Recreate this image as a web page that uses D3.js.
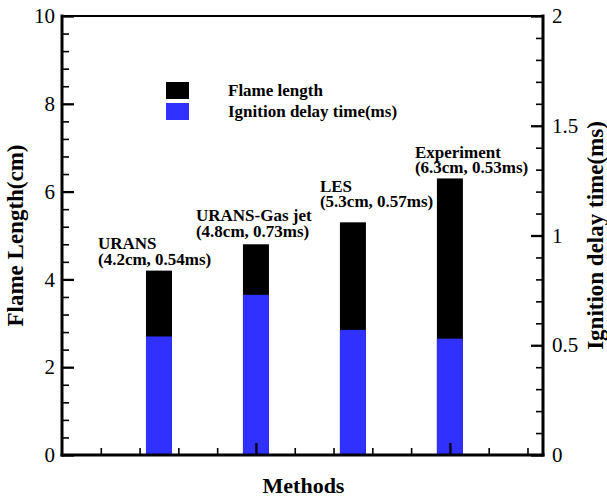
<!DOCTYPE html>
<html>
<head>
<meta charset="utf-8">
<script src="https://cdn.jsdelivr.net/npm/d3@7"></script>
<style>
  html, body { margin: 0; padding: 0; background: #fff; }
  svg text { font-family: "Liberation Serif", "Times New Roman", Times, serif !important; }
</style>
</head>
<body>
<svg id="chart" width="607" height="497"></svg>
<script>
// Methods compared, with flame length (cm) and ignition delay time (ms)
const categories = ["URANS", "URANS-Gas jet", "LES", "Experiment"];
const methodIndex = [1, 2, 3, 4];
const flameLength = [4.2, 4.8, 5.3, 6.3];
const ignitionDelay = [0.54, 0.73, 0.57, 0.53];

const leftTicks = [0, 2, 4, 6, 8, 10];
const rightTicks = [0, 0.5, 1, 1.5, 2];
const bottomTicks = [2, 4];

// label placement relative to each bar (pixels from bar centre / bar top)
const labelDx = [-61, -60, -33, -35];
const labelDy = [-6, -7.5, -15, -5];

const FONT = "Liberation Serif";
const svg = d3.select("#chart");
const plot = { left: 62, right: 543, top: 16, bottom: 455 };

const x = d3.scaleLinear().domain([0, 4.96]).range([plot.left, plot.right]);
const yL = d3.scaleLinear().domain([0, 10]).range([plot.bottom, plot.top]);
const yR = d3.scaleLinear().domain([0, 2]).range([plot.bottom, plot.top]);

const barW = 26;
const blue = "#3030ff";

// bars: flame length in black, ignition delay (right axis) in blue on top
const bars = svg.append("g");
bars.selectAll("rect.flame").data(categories).join("rect")
  .attr("class", "flame")
  .attr("x", (d, i) => x(methodIndex[i]) - barW / 2)
  .attr("width", barW)
  .attr("y", (d, i) => yL(flameLength[i]))
  .attr("height", (d, i) => yL(0) - yL(flameLength[i]))
  .attr("fill", "#000");
bars.selectAll("rect.delay").data(categories).join("rect")
  .attr("class", "delay")
  .attr("x", (d, i) => x(methodIndex[i]) - barW / 2)
  .attr("width", barW)
  .attr("y", (d, i) => yR(ignitionDelay[i]))
  .attr("height", (d, i) => yR(0) - yR(ignitionDelay[i]))
  .attr("fill", blue);

// axes
function styleAxis(g, major) {
  g.attr("font-family", FONT);
  g.select(".domain").remove();
  g.selectAll(".tick line").attr("stroke", "#000").attr("stroke-width", major ? 2.3 : 1.6);
  g.selectAll(".tick text").attr("fill", "#000").attr("font-size", 21);
}
const minor = (lo, hi, step, majors) => d3.range(lo, hi + step / 2, step)
  .map(v => +v.toFixed(3)).filter(v => !majors.some(m => Math.abs(m - v) < 1e-6));

// left
svg.append("g").attr("transform", `translate(${plot.left},0)`)
  .call(d3.axisLeft(yL).tickValues(minor(0, 10, 0.4, leftTicks)).tickSize(-7).tickFormat(""))
  .call(g => styleAxis(g, false));
svg.append("g").attr("transform", `translate(${plot.left},0)`)
  .call(d3.axisLeft(yL).tickValues(leftTicks).tickSize(-12).tickPadding(7).tickFormat(d3.format("d")))
  .call(g => styleAxis(g, true));

// right
svg.append("g").attr("transform", `translate(${plot.right},0)`)
  .call(d3.axisRight(yR).tickValues(minor(0, 2, 0.1, rightTicks)).tickSize(-7).tickFormat(""))
  .call(g => styleAxis(g, false));
svg.append("g").attr("transform", `translate(${plot.right},0)`)
  .call(d3.axisRight(yR).tickValues(rightTicks).tickSize(-12).tickPadding(9).tickFormat(d => String(d)))
  .call(g => styleAxis(g, true));

// bottom
svg.append("g").attr("transform", `translate(0,${plot.bottom})`)
  .call(d3.axisBottom(x).tickValues(minor(0.4, 4.8, 0.4, bottomTicks)).tickSize(-7).tickFormat(""))
  .call(g => styleAxis(g, false));
svg.append("g").attr("transform", `translate(0,${plot.bottom})`)
  .call(d3.axisBottom(x).tickValues(bottomTicks).tickSize(-12).tickFormat(""))
  .call(g => styleAxis(g, true));

// frame
const frame = svg.append("g").attr("stroke", "#000").attr("stroke-linecap", "square");
frame.append("line").attr("x1", plot.left).attr("x2", plot.right).attr("y1", plot.top).attr("y2", plot.top).attr("stroke-width", 2);
frame.append("line").attr("x1", plot.left).attr("x2", plot.right).attr("y1", plot.bottom).attr("y2", plot.bottom).attr("stroke-width", 3);
frame.append("line").attr("x1", plot.left).attr("x2", plot.left).attr("y1", plot.top).attr("y2", plot.bottom).attr("stroke-width", 3);
frame.append("line").attr("x1", plot.right).attr("x2", plot.right).attr("y1", plot.top).attr("y2", plot.bottom).attr("stroke-width", 3);

// axis titles
const titles = svg.append("g").attr("font-family", FONT).attr("font-size", 23).attr("font-weight", "bold");
titles.append("text").attr("transform", `translate(23,${(plot.top + plot.bottom) / 2}) rotate(-90)`)
  .attr("text-anchor", "middle").text("Flame Length(cm)");
titles.append("text").attr("transform", `translate(603,${(plot.top + plot.bottom) / 2}) rotate(-90)`)
  .attr("text-anchor", "middle").text("Ignition delay time(ms)");
titles.append("text").attr("x", (plot.left + plot.right) / 2 + 1).attr("y", 493)
  .attr("font-size", 22).attr("text-anchor", "middle").text("Methods");

// legend
const legendItems = ["Flame length", "Ignition delay time(ms)"];
const legendColors = ["#000", blue];
const legend = svg.append("g").attr("transform", "translate(166,82)")
  .attr("font-family", FONT).attr("font-size", 17).attr("font-weight", "bold");
legend.selectAll("rect").data(legendItems).join("rect")
  .attr("x", 0).attr("y", (d, i) => i * 21).attr("width", 23).attr("height", 17)
  .attr("fill", (d, i) => legendColors[i]);
legend.selectAll("text").data(legendItems).join("text")
  .attr("x", 62).attr("y", (d, i) => 14 + i * 21)
  .text(d => d);

// value annotations above each bar
const ann = svg.append("g").attr("font-family", FONT).attr("font-size", 17).attr("font-weight", "bold");
categories.forEach((c, i) => {
  const tx = x(methodIndex[i]) + labelDx[i];
  const ty = yL(flameLength[i]) + labelDy[i];
  ann.append("text").attr("x", tx).attr("y", ty - 15.5).text(c);
  ann.append("text").attr("x", tx).attr("y", ty)
    .text(`(${flameLength[i]}cm, ${ignitionDelay[i]}ms)`);
});
</script>
</body>
</html>
